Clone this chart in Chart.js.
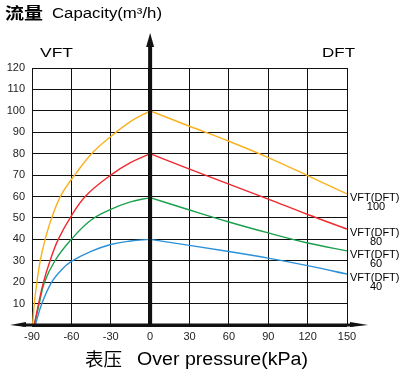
<!DOCTYPE html>
<html>
<head>
<meta charset="utf-8">
<script src="https://cdn.jsdelivr.net/npm/chart.js@4"></script>
<style>
  body { margin: 0; background: #fff; }
  canvas { display: block; }
</style>
</head>
<body>
<canvas id="grafica" width="410" height="372"></canvas>
<script>
// Ticks
const xTicks = [-90, -60, -30, 0, 30, 60, 90, 120, 150];
const yTicks = [0, 10, 20, 30, 40, 50, 60, 70, 80, 90, 100, 110, 120];

// Lado vacio (VFT): presion y caudal
const vacP100 = [-89.5, -88.25, -86.25, -83.75, -80, -75, -67.5, -56.25, -43.75, -30, -15, 0];
const vacQ100 = [0, 10, 20, 30, 40, 50, 61, 71, 80.5, 88, 95, 100];
const vacP80 = [-88.25, -85, -81.25, -76.25, -70, -60, -48.75, -30, -15, 0];
const vacQ80 = [0, 10, 20, 30, 40, 51, 60.5, 70, 75.8, 80];
const vacP60 = [-88.25, -84.5, -80.5, -72.5, -60, -45, -30, -15, 0];
const vacQ60 = [0, 10, 20, 30, 40, 49, 54, 57.5, 59.5];
const vacP40 = [-87.5, -82.5, -75, -67.5, -60, -45, -30, -15, 0];
const vacQ40 = [0, 10, 20, 25.8, 29.7, 34.4, 37.6, 39.2, 40];

// Lado presion (DFT)
const overP = [0, 30, 60, 90, 120, 150];
const dftQ100 = [100, 92.8, 85.8, 78.2, 69.8, 61.2];
const dftQ80 = [80, 72.8, 65.8, 58.8, 51.6, 44.8];
const dftQ60 = [59.5, 53.7, 48.1, 43.0, 38.3, 34.6];
const dftQ40 = [40, 37.2, 34.3, 31.2, 27.7, 23.8];

const etiquetas = ['100', '80', '60', '40'];
const colores = ['#f9b21e', '#ee2a2f', '#1aa04c', '#2a91d9'];

function puntos(xs, ys) {
    return xs.map((x, i) => ({ x: x, y: ys[i] }));
}

const vacio = [[vacP100, vacQ100], [vacP80, vacQ80], [vacP60, vacQ60], [vacP40, vacQ40]];
const presion = [dftQ100, dftQ80, dftQ60, dftQ40];

const datasets = [];
vacio.forEach((v, i) => {
    datasets.push({
        data: puntos(v[0], v[1]),
        borderColor: colores[i],
        borderWidth: 1.4,
        pointRadius: 0,
        tension: 0.4
    });
    datasets.push({
        data: puntos(overP, presion[i]),
        borderColor: colores[i],
        borderWidth: 1.4,
        pointRadius: 0,
        cubicInterpolationMode: 'monotone'
    });
});

// Texto estirado horizontalmente a un ancho dado
function texto(ctx, str, x, y, font, ancho) {
    ctx.save();
    ctx.font = font;
    const w = ctx.measureText(str).width;
    ctx.translate(x, y);
    if (ancho) ctx.scale(ancho / w, 1);
    ctx.fillText(str, 0, 0);
    ctx.restore();
}

const ejes = {
    id: 'ejes',
    afterDraw(chart) {
        const ctx = chart.ctx;
        const xs = chart.scales.x;
        const ys = chart.scales.y;
        const x0 = xs.getPixelForValue(0);
        const y0 = ys.getPixelForValue(0);
        ctx.save();
        ctx.fillStyle = '#111';
        ctx.strokeStyle = '#111';

        // eje vertical con flecha
        ctx.lineWidth = 4;
        ctx.beginPath();
        ctx.moveTo(x0, y0 + 1);
        ctx.lineTo(x0, 44);
        ctx.stroke();
        ctx.beginPath();
        ctx.moveTo(x0, 33);
        ctx.lineTo(x0 - 4, 47);
        ctx.lineTo(x0 + 4, 47);
        ctx.closePath();
        ctx.fill();

        // eje horizontal con flechas
        ctx.lineWidth = 3;
        ctx.beginPath();
        ctx.moveTo(22, y0);
        ctx.lineTo(354, y0);
        ctx.stroke();
        ctx.beginPath();
        ctx.moveTo(10, y0);
        ctx.lineTo(26, y0 - 3);
        ctx.lineTo(26, y0 + 2);
        ctx.closePath();
        ctx.fill();
        ctx.beginPath();
        ctx.moveTo(368, y0);
        ctx.lineTo(350, y0 - 3);
        ctx.lineTo(350, y0 + 2);
        ctx.closePath();
        ctx.fill();

        // titulos
        ctx.fillStyle = '#000';
        ctx.textBaseline = 'alphabetic';
        texto(ctx, '流量', 5, 19, 'bold 16px "Noto Sans CJK SC"', 38);
        texto(ctx, 'Capacity(m³/h)', 52, 18, '14px "Liberation Sans"', 110);
        texto(ctx, 'VFT', 40, 56.5, '13px "Liberation Sans"', 33);
        texto(ctx, 'DFT', 322, 56.5, '13px "Liberation Sans"', 33);
        texto(ctx, '表压', 85, 366, '18px "Noto Sans CJK SC"', 37);
        texto(ctx, 'Over pressure(kPa)', 137, 365, '18px "Liberation Sans"', 171);

        // etiquetas de las curvas
        presion.forEach((serie, i) => {
            const yEnd = ys.getPixelForValue(serie[serie.length - 1]);
            ctx.font = '11px "Liberation Sans"';
            ctx.textAlign = 'left';
            ctx.fillText('VFT(DFT)', 350, yEnd + 7);
            ctx.textAlign = 'center';
            ctx.fillText(etiquetas[i], 376, yEnd + 16);
        });
        ctx.restore();
    }
};

new Chart(document.getElementById('grafica'), {
    type: 'line',
    data: { datasets: datasets },
    options: {
        responsive: false,
        animation: false,
        layout: { padding: { top: 68, right: 63, bottom: 27, left: 0 } },
        plugins: { legend: { display: false }, tooltip: { enabled: false } },
        scales: {
            x: {
                type: 'linear',
                min: -90,
                max: 150,
                afterFit: s => { s.height = 20; },
                afterBuildTicks: s => { s.ticks = xTicks.map(v => ({ value: v })); },
                border: { display: false },
                grid: {
                    color: '#111',
                    drawTicks: false,
                    lineWidth: c => (c.tick && c.tick.value === 0 ? 4 : 1)
                },
                ticks: {
                    padding: 5,
                    color: '#222',
                    font: { family: 'Liberation Sans', size: 11 },
                    maxRotation: 0
                }
            },
            y: {
                min: 0,
                max: 120,
                afterFit: s => { s.width = 32; },
                afterBuildTicks: s => { s.ticks = yTicks.map(v => ({ value: v })); },
                border: { display: false },
                grid: {
                    color: '#111',
                    drawTicks: false,
                    lineWidth: c => (c.tick && c.tick.value === 0 ? 3 : 1)
                },
                ticks: {
                    padding: 7,
                    color: '#222',
                    font: { family: 'Liberation Sans', size: 11 },
                    callback: v => (v === 0 ? '' : v)
                }
            }
        }
    },
    plugins: [ejes]
});
</script>
</body>
</html>
